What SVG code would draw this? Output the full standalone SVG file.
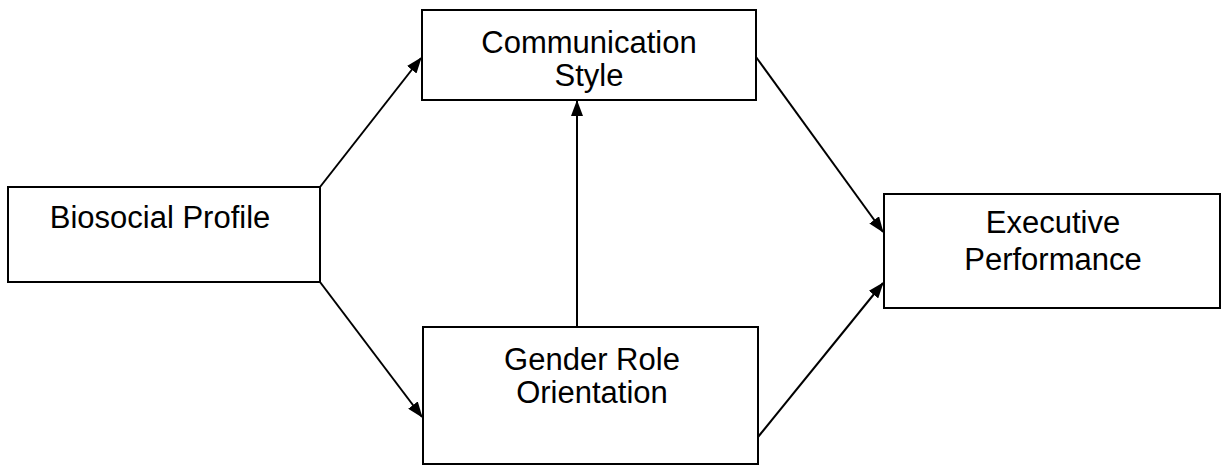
<svg xmlns="http://www.w3.org/2000/svg" width="1221" height="466" viewBox="0 0 1221 466">
<style>
.box{fill:#fff;stroke:#000;stroke-width:2}
.t{font-family:"Liberation Sans",Arial,sans-serif;font-size:31px;fill:#000;text-anchor:middle}
.c{stroke:#000;stroke-width:2;fill:none;marker-end:url(#ah)}
</style>
<defs>
<marker id="ah" markerWidth="16" markerHeight="12" refX="15" refY="6" orient="auto" markerUnits="userSpaceOnUse">
<path d="M0,0 L16,6 L0,12 Z" fill="#000"/>
</marker>
</defs>
<rect width="1221" height="466" fill="#fff"/>
<g id="connectors">
<line class="c" x1="320" y1="187" x2="421" y2="58"/>
<line class="c" x1="320" y1="282" x2="422" y2="417"/>
<line class="c" x1="577" y1="327" x2="577" y2="101"/>
<line class="c" x1="756" y1="57" x2="883" y2="232"/>
<line class="c" x1="758" y1="437" x2="883" y2="283"/>
</g>
<g id="biosocial">
<rect class="box" x="8" y="187" width="312" height="95"/>
<text class="t" x="160" y="228">Biosocial Profile</text>
</g>
<g id="communication">
<rect class="box" x="422" y="10" width="334" height="90"/>
<text class="t" x="589" y="53">Communication</text>
<text class="t" x="589" y="86">Style</text>
</g>
<g id="gender">
<rect class="box" x="423" y="327" width="335" height="137"/>
<text class="t" x="592" y="370">Gender Role</text>
<text class="t" x="592" y="403">Orientation</text>
</g>
<g id="executive">
<rect class="box" x="884" y="194" width="336" height="114"/>
<text class="t" x="1053" y="233">Executive</text>
<text class="t" x="1053" y="270">Performance</text>
</g>
</svg>
